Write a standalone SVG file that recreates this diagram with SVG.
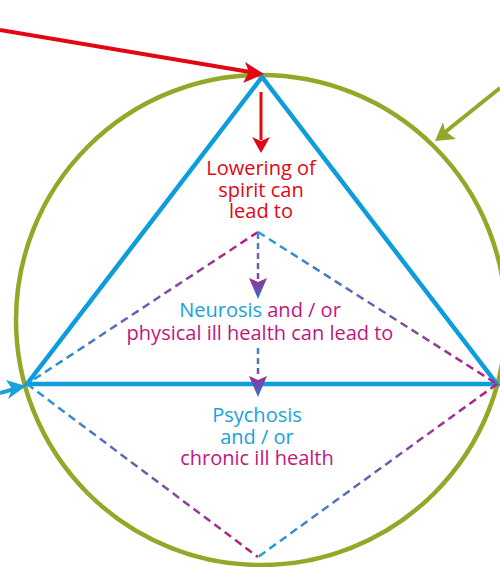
<svg xmlns="http://www.w3.org/2000/svg" width="500" height="567" viewBox="0 0 500 567">
<style>
.t{font-family:"Open Sans","Noto Sans",sans-serif;font-size:20px;text-anchor:middle}
.red{fill:#e30613}.blue{fill:#1aa1dc}.mag{fill:#c0177f}
.dash{fill:none;stroke-width:2.5;stroke-dasharray:8 5}
</style>
<defs>
<linearGradient id="gTL" gradientUnits="userSpaceOnUse" x1="258" y1="232" x2="27" y2="384"><stop offset="0" stop-color="#c0177f"/><stop offset="1" stop-color="#1aa1dc"/></linearGradient>
<linearGradient id="gTR" gradientUnits="userSpaceOnUse" x1="258" y1="232" x2="497" y2="384"><stop offset="0" stop-color="#1aa1dc"/><stop offset="1" stop-color="#c0177f"/></linearGradient>
<linearGradient id="gBL" gradientUnits="userSpaceOnUse" x1="27" y1="384" x2="258" y2="557"><stop offset="0" stop-color="#1aa1dc"/><stop offset="1" stop-color="#c0177f"/></linearGradient>
<linearGradient id="gBR" gradientUnits="userSpaceOnUse" x1="497" y1="384" x2="258" y2="557"><stop offset="0" stop-color="#c0177f"/><stop offset="1" stop-color="#1aa1dc"/></linearGradient>
<linearGradient id="gV1" gradientUnits="userSpaceOnUse" x1="0" y1="233" x2="0" y2="282"><stop offset="0" stop-color="#3a8ccc"/><stop offset="1" stop-color="#8a3fa0"/></linearGradient>
<linearGradient id="gV2" gradientUnits="userSpaceOnUse" x1="0" y1="348" x2="0" y2="380"><stop offset="0" stop-color="#3a8ccc"/><stop offset="1" stop-color="#8a3fa0"/></linearGradient>
<linearGradient id="gH" x1="0" y1="0" x2="0" y2="1"><stop offset="0" stop-color="#a02a95"/><stop offset="1" stop-color="#2a78d0"/></linearGradient>
</defs>
<g id="circle"><circle cx="261" cy="320" r="245" fill="none" stroke="#94a728" stroke-width="4.5"/></g>
<g id="triangle"><path d="M262 77 L27 384 L497 384 Z" fill="none" stroke="#0e9ddc" stroke-width="4.5" stroke-linejoin="miter"/></g>
<g id="diamond">
<line class="dash" x1="258" y1="232" x2="27" y2="384" stroke="url(#gTL)"/>
<line class="dash" x1="258" y1="232" x2="497" y2="384" stroke="url(#gTR)"/>
<line class="dash" x1="27" y1="384" x2="258" y2="557" stroke="url(#gBL)"/>
<line class="dash" x1="497" y1="384" x2="258" y2="557" stroke="url(#gBR)"/>
</g>
<g id="connectors">
<line x1="0" y1="30" x2="250" y2="72" stroke="#e30613" stroke-width="4"/>
<path d="M264 74 L245 62 L249 72 L243 83 Z" fill="#e30613"/>
<line x1="261" y1="92" x2="261" y2="140" stroke="#e30613" stroke-width="3"/>
<path d="M252 137 L261 153 L270 137 L261 141 Z" fill="#e30613"/>
<line x1="500" y1="88" x2="444" y2="133" stroke="#94a728" stroke-width="4"/>
<path d="M435 141 L443 122 L445 131 L456 139 Z" fill="#94a728"/>
<line x1="0" y1="393" x2="14" y2="389" stroke="#1aa1dc" stroke-width="4"/>
<path d="M26 386 L6 380 L12 389 L8 399 Z" fill="#1aa1dc"/>
<line x1="258" y1="233" x2="258" y2="280" stroke="url(#gV1)" stroke-width="2.5" stroke-dasharray="6 4"/>
<path d="M249 278 L258 299 L267 278 L258 282 Z" fill="url(#gH)"/>
<line x1="258" y1="348" x2="258" y2="378" stroke="url(#gV2)" stroke-width="2.5" stroke-dasharray="6 4"/>
<path d="M249 376 L258 397 L267 376 L258 380 Z" fill="url(#gH)"/>
</g>
<g id="text1">
<text class="t red" x="261" y="175">Lowering of</text>
<text class="t red" x="261" y="197">spirit can</text>
<text class="t red" x="261" y="218">lead to</text>
</g>
<g id="text2">
<text class="t" x="260" y="317"><tspan class="blue">Neurosis</tspan><tspan class="mag"> and / or</tspan></text>
<text class="t mag" x="260" y="340">physical ill health can lead to</text>
</g>
<g id="text3">
<text class="t blue" x="257" y="422">Psychosis</text>
<text class="t blue" x="257" y="444">and / or</text>
<text class="t mag" x="257" y="465">chronic ill health</text>
</g>
</svg>
